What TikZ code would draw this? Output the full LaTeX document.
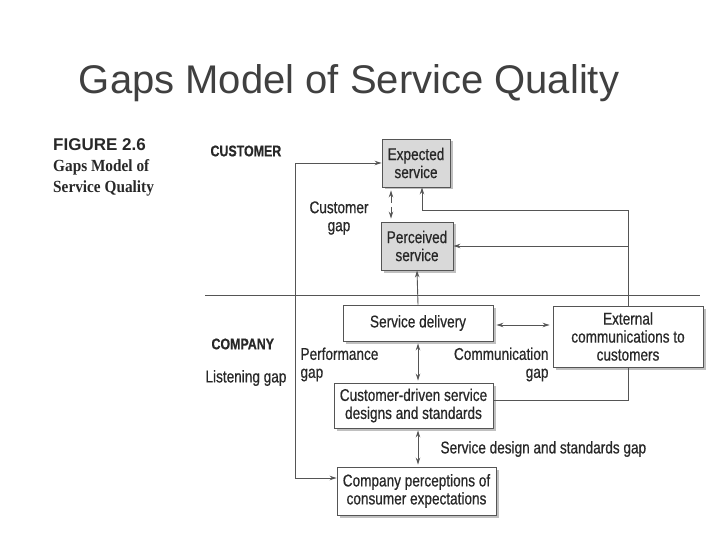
\documentclass[tikz,border=0pt]{standalone}
\usepackage{fontspec}
\setmainfont{Liberation Sans}
\newfontfamily\capserif{Liberation Serif}
\newfontfamily\narrowsans{Liberation Sans}[FakeStretch=0.8, FakeBold=0.6]
\definecolor{ink1}{RGB}{40, 40, 40}
\definecolor{line1}{RGB}{85, 85, 85}
\definecolor{gray1}{RGB}{217, 217, 217}
\definecolor{title1}{RGB}{64, 64, 64}
\usetikzlibrary{shapes, arrows.meta, positioning, calc, shadows}

\begin{document}
\begin{tikzpicture}[x=1pt, y=-1pt,
  every node/.style={text=ink1, font=\narrowsans\fontsize{17}{18}\selectfont},
  box/.style={draw=line1, line width=0.9pt, fill=white, align=center, inner sep=0pt,
    drop shadow={shadow xshift=2.5pt, shadow yshift=-2.5pt, opacity=0.35, fill=black!70}},
  graybox/.style={box, fill=gray1},
  conn/.style={draw=line1, line width=0.9pt},
  arr/.style={conn, -{Stealth[length=7pt, width=4.5pt]}},
  biarr/.style={conn, {Stealth[length=7pt, width=4.5pt]}-{Stealth[length=7pt, width=4.5pt]}},
  sidelabel/.style={font=\narrowsans\fontsize{15.5}{16}\selectfont\bfseries, anchor=west}]
  \useasboundingbox[fill=white] (0,0) rectangle (720,540);

  \node[text=title1, font=\fontsize{40}{48}\selectfont] (title) at (349,83) {Gaps Model of Service Quality};
  \node[anchor=north west, align=left, inner sep=0pt, font=\fontsize{17}{21}\selectfont] (figcap) at (53,138)
    {{\fontsize{17}{21}\selectfont\bfseries FIGURE 2.6}\\
     \scalebox{0.9}[1]{\capserif\bfseries Gaps Model of}\\
     \scalebox{0.9}[1]{\capserif\bfseries Service Quality}};

  \node[sidelabel] (customer) at (207,151) {CUSTOMER};
  \node[sidelabel] (company) at (208,344) {COMPANY};
  \node[anchor=west] (listen) at (202,378) {Listening gap};

  \node[graybox, minimum width=68pt, minimum height=48pt] (expected) at (416,163) {Expected\\service};
  \node[graybox, minimum width=72pt, minimum height=48pt] (perceived) at (417,246) {Perceived\\service};
  \node[box, minimum width=150pt, minimum height=36pt] (delivery) at (418,323) {Service delivery};
  \node[box, minimum width=150pt, minimum height=61pt] (external) at (628,336.5) {External\\communications to\\customers};
  \node[box, minimum width=159pt, minimum height=45pt] (designs) at (413.5,405.5) {Customer-driven service\\designs and standards};
  \node[box, minimum width=159pt, minimum height=48pt] (companyperc) at (416.5,491) {Company perceptions of\\consumer expectations};

  \node[align=center] (custgap) at (339,218) {Customer\\gap};
  \node[anchor=north west, align=left] (perfgap) at (297,344) {Performance\\gap};
  \node[anchor=north east, align=right] (commgap) at (552,344) {Communication\\gap};
  \node[anchor=west] (designgap) at (437,449) {Service design and standards gap};

  \coordinate (divl) at (205,295);
  \coordinate (divr) at (700,295);
  \draw[conn] (divl) -- (divr);

  \coordinate (listtop) at (295,163);
  \coordinate (listbot) at (295,478);
  \draw[biarr] (expected.west) -- (listtop) -- (listbot) -- (companyperc.west |- listbot);

  \draw[biarr, dash pattern=on 8pt off 4pt, shorten <=3pt, shorten >=3pt]
    ([xshift=-25pt]expected.south) -- ([xshift=-26pt]perceived.north);
  \draw[arr] (delivery.north) -- (perceived.south);

  \coordinate (exttop) at (628,210);
  \draw[arr] (external.north) -- (exttop) -| ([xshift=6pt]expected.south);
  \draw[arr] (exttop |- perceived.east) -- (perceived.east);

  \coordinate (sdarrow) at ([yshift=-2pt]delivery.east);
  \draw[biarr, shorten <=3pt, shorten >=3pt] (sdarrow) -- (external.west |- sdarrow);
  \draw[conn] ([yshift=5pt]designs.east) -| (external.south);

  \draw[biarr, shorten <=2pt, shorten >=2pt] (delivery.south) -- (delivery.south |- designs.north);
  \draw[biarr, shorten <=2pt, shorten >=2pt] (delivery.south |- designs.south) -- (delivery.south |- companyperc.north);
\end{tikzpicture}
\end{document}
